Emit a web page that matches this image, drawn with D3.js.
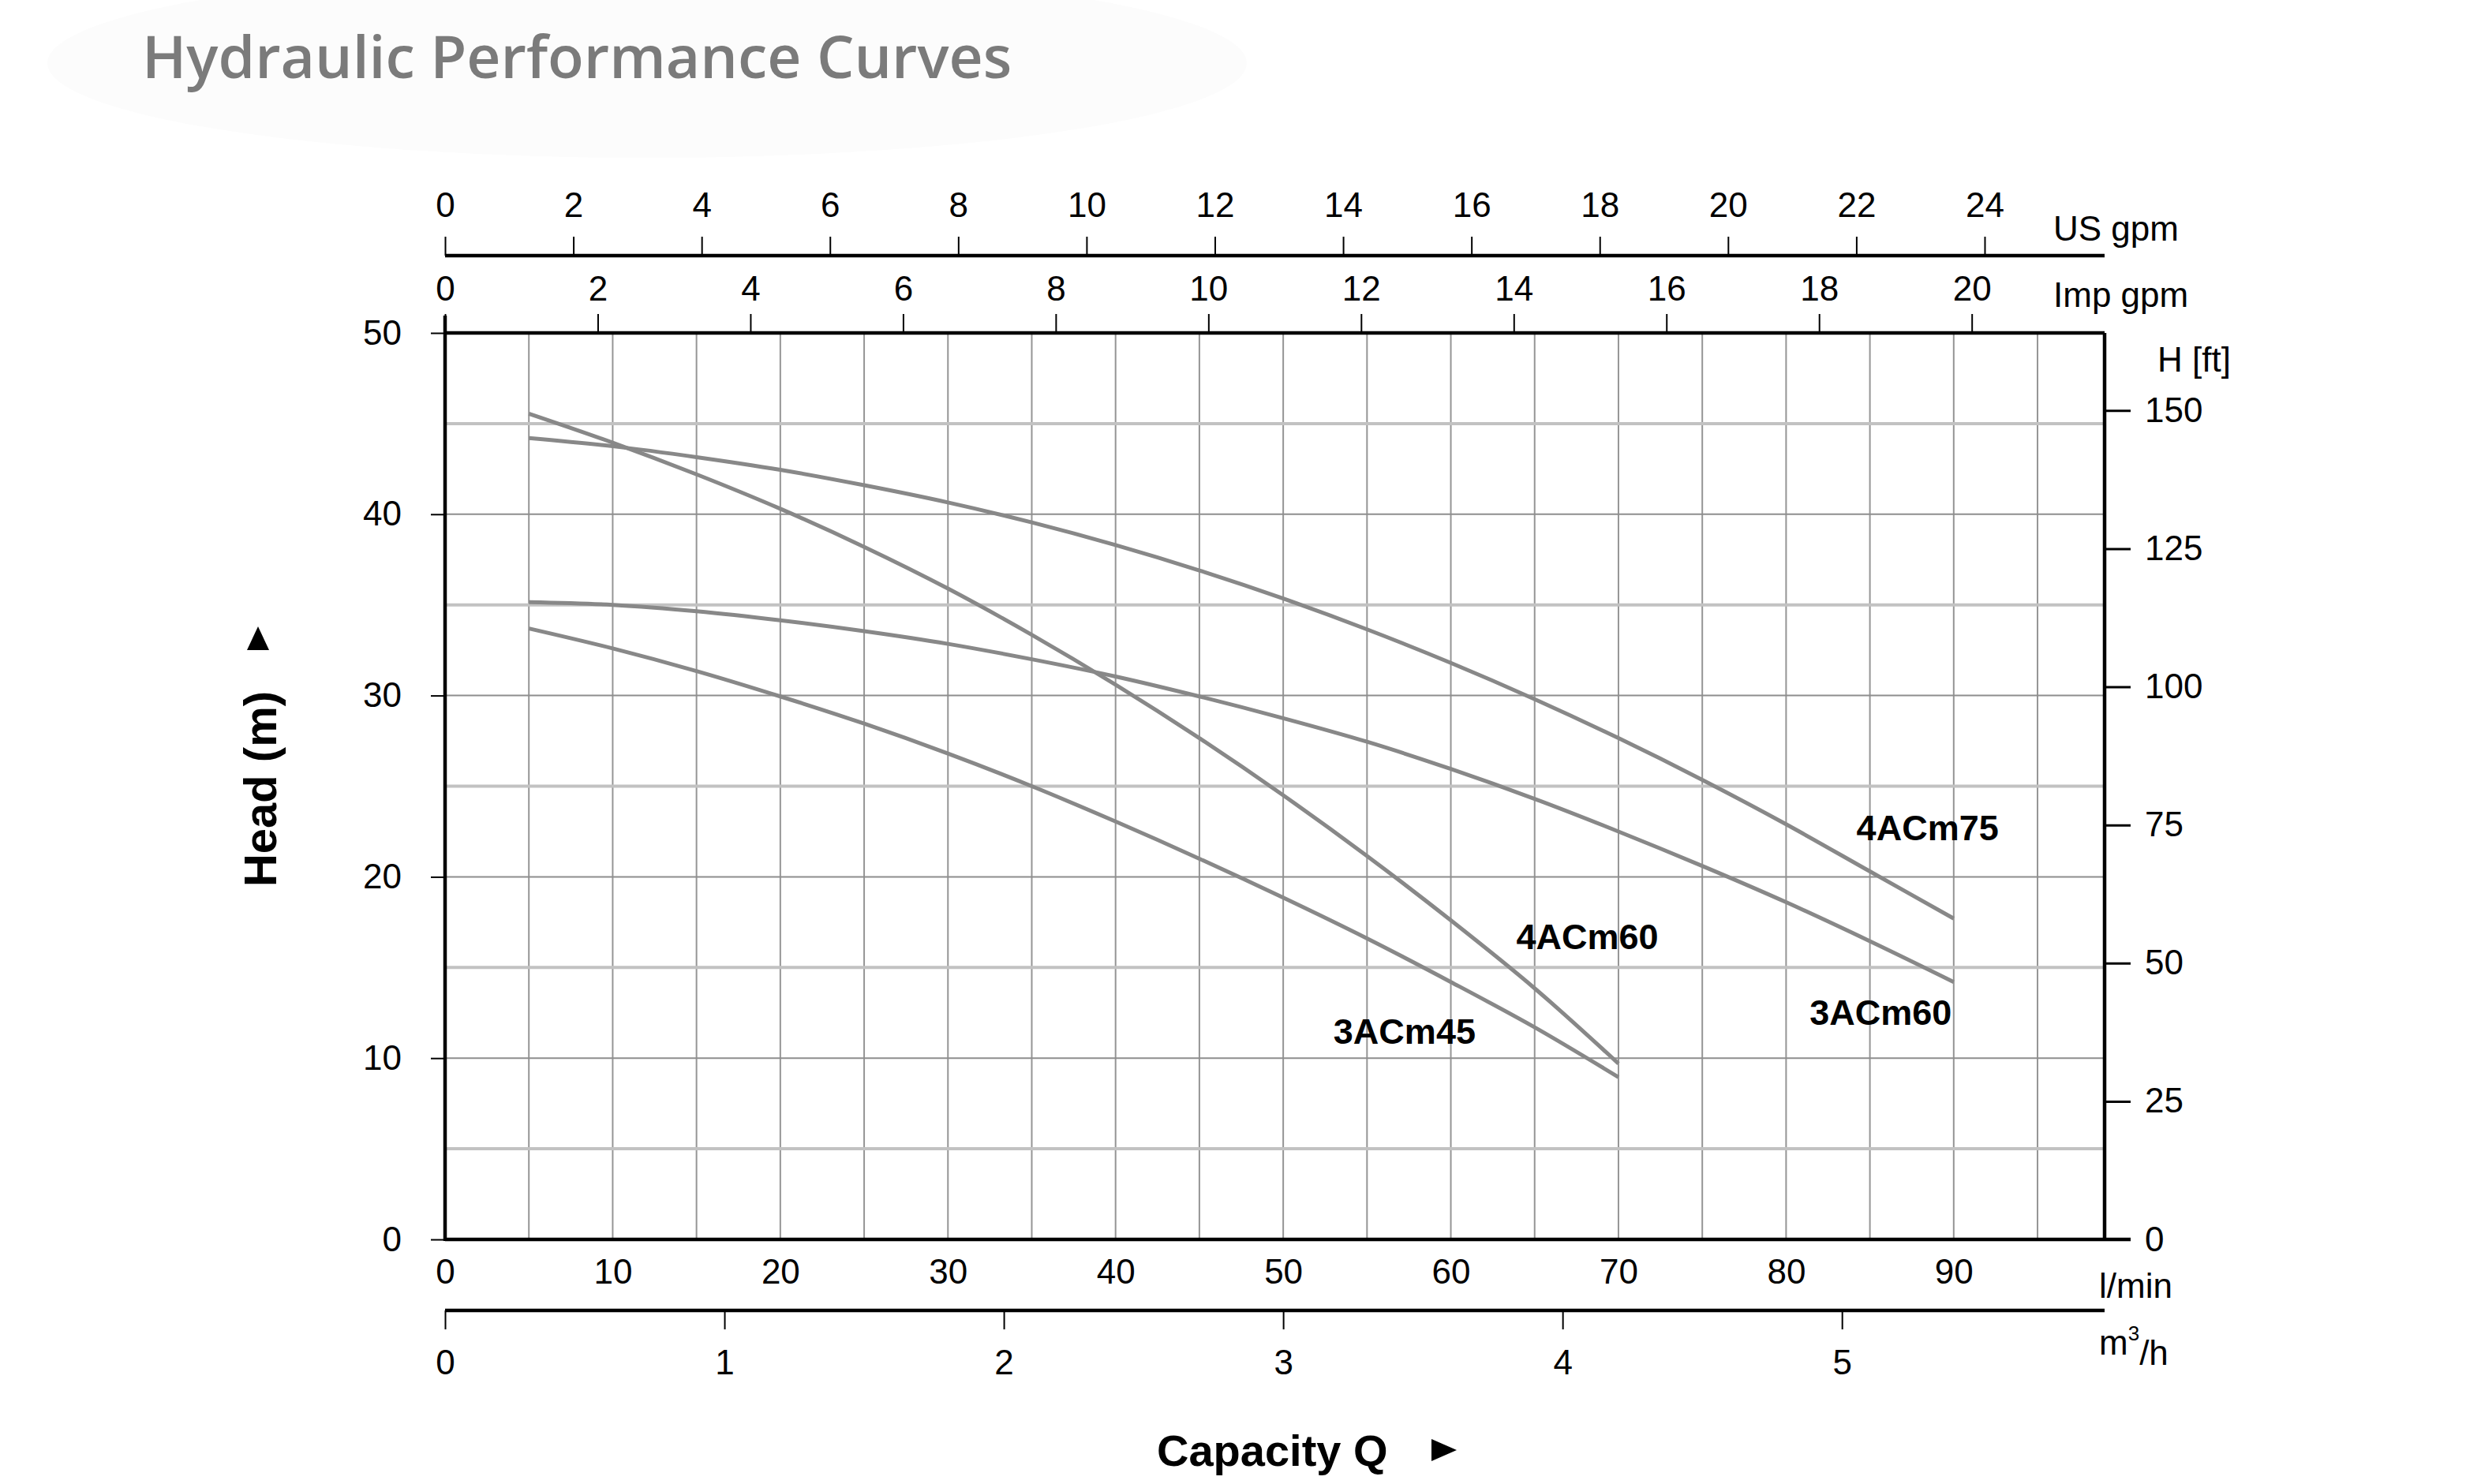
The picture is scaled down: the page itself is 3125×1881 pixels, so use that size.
<!DOCTYPE html>
<html>
<head>
<meta charset="utf-8">
<script src="https://cdn.jsdelivr.net/npm/d3@7"></script>
<style>
  body { margin: 0; background: #fff; }
  svg { display: block; }
  text { font-family: "Liberation Sans", Arial, Helvetica, sans-serif; fill: #000; }
</style>
</head>
<body>
<div id="chart"></div>
<script>
// flow points (l/min) for each curve
const flowLong = [5, 10, 15, 20, 25, 30, 35, 40, 45, 50, 55, 60, 65, 70, 75, 80, 85, 90];
const flowShort = [5, 10, 15, 20, 25, 30, 35, 40, 45, 50, 55, 60, 65, 70];

// head (m)
const head4ACm75 = [44.2, 43.75, 43.15, 42.45, 41.6, 40.65, 39.55, 38.3, 36.9, 35.35, 33.65, 31.8, 29.8, 27.65, 25.35, 22.9, 20.3, 17.7];
const head3ACm60 = [35.15, 35.0, 34.65, 34.15, 33.55, 32.85, 32.0, 31.05, 29.95, 28.75, 27.45, 25.95, 24.3, 22.5, 20.6, 18.6, 16.45, 14.2];
const head4ACm60 = [45.55, 43.95, 42.2, 40.3, 38.2, 35.9, 33.35, 30.6, 27.65, 24.5, 21.15, 17.6, 13.85, 9.7];
const head3ACm45 = [33.7, 32.6, 31.35, 29.95, 28.45, 26.8, 25.0, 23.05, 21.0, 18.85, 16.6, 14.2, 11.7, 8.95];

const series = [
  { name: '4ACm75', flow: flowLong, head: head4ACm75 },
  { name: '3ACm60', flow: flowLong, head: head3ACm60 },
  { name: '4ACm60', flow: flowShort, head: head4ACm60 },
  { name: '3ACm45', flow: flowShort, head: head3ACm45 }
];

// tick labels
const lpmTicks = [0, 10, 20, 30, 40, 50, 60, 70, 80, 90];
const m3hTicks = [0, 1, 2, 3, 4, 5];
const usGpmTicks = [0, 2, 4, 6, 8, 10, 12, 14, 16, 18, 20, 22, 24];
const impGpmTicks = [0, 2, 4, 6, 8, 10, 12, 14, 16, 18, 20];
const headTicks = [0, 10, 20, 30, 40, 50];
const ftTicks = [0, 25, 50, 75, 100, 125, 150];
const gridFlow = [5, 10, 15, 20, 25, 30, 35, 40, 45, 50, 55, 60, 65, 70, 75, 80, 85, 90, 95];
const gridHead = [5, 10, 15, 20, 25, 30, 35, 40, 45];

// where the curve names sit, in chart units (flow, head)
const labelAt = {
  '4ACm75': [84.2, 22.0],
  '4ACm60': [63.9, 16.0],
  '3ACm45': [53.0, 10.8],
  '3ACm60': [81.4, 11.85]
};

const width = 3125;
const height = 1881;
const plot = { left: 564, right: 2667, top: 422, bottom: 1571 };
const maxFlow = 99;

const x = d3.scaleLinear().domain([0, maxFlow]).range([plot.left, plot.right]);
const xM3h = d3.scaleLinear().domain([0, maxFlow * 0.06]).range([plot.left, plot.right]);
const xUs = d3.scaleLinear().domain([0, 25.87]).range([plot.left, plot.right]);
const xImp = d3.scaleLinear().domain([0, 21.74]).range([plot.left, plot.right]);
const y = d3.scaleLinear().domain([0, 50]).range([plot.bottom, plot.top]);
const yFt = d3.scaleLinear().domain([0, 50 * 3.28084]).range([plot.bottom, plot.top]);

const svg = d3.select('#chart')
  .append('svg')
  .attr('width', width)
  .attr('height', height);

// faint blob behind the title
svg.append('ellipse')
  .attr('cx', 820).attr('cy', 80)
  .attr('rx', 760).attr('ry', 120)
  .attr('fill', '#fcfcfc');

svg.append('text')
  .attr('x', 180)
  .attr('y', 99)
  .style('font-family', '"Open Sans", sans-serif')
  .style('font-weight', 600)
  .style('font-size', '75px')
  .style('fill', '#7b7b7b')
  .text('Hydraulic Performance Curves');

// grid
const grid = svg.append('g').classed('grid', true);
grid.selectAll('line.v')
  .data(gridFlow)
  .join('line')
  .attr('class', 'v')
  .attr('x1', (d) => x(d)).attr('x2', (d) => x(d))
  .attr('y1', plot.top).attr('y2', plot.bottom)
  .attr('stroke', '#959595')
  .attr('stroke-width', 2);

grid.selectAll('line.h')
  .data(gridHead)
  .join('line')
  .attr('class', 'h')
  .attr('x1', plot.left).attr('x2', plot.right)
  .attr('y1', (d) => y(d)).attr('y2', (d) => y(d))
  .attr('stroke', (d) => (d % 10 === 0 ? '#8e8e8e' : '#c2c2c2'))
  .attr('stroke-width', (d) => (d % 10 === 0 ? 2 : 4));

// curves
const line = d3.line()
  .x((d) => x(d[0]))
  .y((d) => y(d[1]))
  .curve(d3.curveCatmullRom.alpha(0.5));

svg.append('g')
  .selectAll('path')
  .data(series)
  .join('path')
  .attr('d', (s) => line(s.flow.map((q, i) => [q, s.head[i]])))
  .attr('fill', 'none')
  .attr('stroke', '#888')
  .attr('stroke-width', 5);

svg.append('g')
  .selectAll('text')
  .data(series)
  .join('text')
  .attr('x', (s) => x(labelAt[s.name][0]))
  .attr('y', (s) => y(labelAt[s.name][1]))
  .style('font-weight', 'bold')
  .style('font-size', '45px')
  .text((s) => s.name);

// axes: ticks and labels from d3, frame lines drawn by hand
const tickFont = '44px';
function styleAxis(g, tickWidth) {
  g.select('.domain').remove();
  g.selectAll('.tick line').attr('stroke', '#000').attr('stroke-width', tickWidth);
  g.selectAll('.tick text').style('font-size', tickFont).attr('fill', '#000');
}

svg.append('g')
  .attr('transform', `translate(${plot.left},0)`)
  .call(d3.axisLeft(y).tickValues(headTicks).tickSize(18).tickPadding(37))
  .call((g) => styleAxis(g, 2));

svg.append('g')
  .attr('transform', `translate(${plot.right},0)`)
  .call(d3.axisRight(yFt).tickValues(ftTicks).tickSize(33).tickPadding(18))
  .call((g) => styleAxis(g, 3));

svg.append('g')
  .attr('transform', `translate(0,${plot.bottom})`)
  .call(d3.axisBottom(x).tickValues(lpmTicks).tickSize(0))
  .call((g) => styleAxis(g, 0))
  .call((g) => g.selectAll('.tick text').attr('y', 41).attr('dy', '0.35em'));

const m3hY = 1661;
svg.append('g')
  .attr('transform', `translate(0,${m3hY})`)
  .call(d3.axisBottom(xM3h).tickValues(m3hTicks).tickFormat(d3.format('d')).tickSize(24))
  .call((g) => styleAxis(g, 2))
  .call((g) => g.selectAll('.tick text').attr('y', 66).attr('dy', '0.35em'));

const usY = 324;
svg.append('g')
  .attr('transform', `translate(0,${usY})`)
  .call(d3.axisTop(xUs).tickValues(usGpmTicks).tickSize(24))
  .call((g) => styleAxis(g, 2))
  .call((g) => g.selectAll('.tick text').attr('y', -64).attr('dy', '0.35em'));

svg.append('g')
  .attr('transform', `translate(0,${plot.top})`)
  .call(d3.axisTop(xImp).tickValues(impGpmTicks).tickSize(24))
  .call((g) => styleAxis(g, 2))
  .call((g) => g.selectAll('.tick text').attr('y', -56).attr('dy', '0.35em'));

// frame and scale bars
const frame = svg.append('g').attr('stroke', '#000').attr('stroke-width', 4.5);
frame.append('line').attr('x1', plot.left).attr('x2', plot.left).attr('y1', plot.top - 22).attr('y2', plot.bottom + 2);
frame.append('line').attr('x1', plot.left).attr('x2', plot.right).attr('y1', plot.top).attr('y2', plot.top);
frame.append('line').attr('x1', plot.right).attr('x2', plot.right).attr('y1', plot.top).attr('y2', plot.bottom);
frame.append('line').attr('x1', plot.left).attr('x2', plot.right + 33).attr('y1', plot.bottom).attr('y2', plot.bottom);
frame.append('line').attr('x1', plot.left).attr('x2', plot.right).attr('y1', m3hY).attr('y2', m3hY);
frame.append('line').attr('x1', plot.left).attr('x2', plot.right).attr('y1', usY).attr('y2', usY);

// unit labels
const units = svg.append('g').style('font-size', '44px');
units.append('text').attr('x', 2602).attr('y', 290).attr('dy', '0.35em').text('US gpm');
units.append('text').attr('x', 2602).attr('y', 374).attr('dy', '0.35em').text('Imp gpm');
units.append('text').attr('x', 2734).attr('y', 456).attr('dy', '0.35em').text('H [ft]');
units.append('text').attr('x', 2660).attr('y', 1630).attr('dy', '0.35em').text('l/min');
const m3 = units.append('text').attr('x', 2660).attr('y', 1702).attr('dy', '0.35em');
m3.append('tspan').text('m');
m3.append('tspan').attr('dy', '-0.7em').style('font-size', '26px').text('3');
m3.append('tspan').attr('dy', '0.7em').text('/h');

// axis titles with arrows
svg.append('text')
  .attr('transform', 'translate(330,1000) rotate(-90)')
  .attr('text-anchor', 'middle')
  .attr('dy', '0.35em')
  .style('font-weight', 'bold')
  .style('font-size', '58px')
  .text('Head (m)');

svg.append('path')
  .attr('d', 'M327,794 L341,824 L313,824 Z')
  .attr('fill', '#000');

svg.append('text')
  .attr('x', 1466)
  .attr('y', 1838)
  .attr('dy', '0.35em')
  .style('font-weight', 'bold')
  .style('font-size', '56px')
  .text('Capacity Q');

svg.append('path')
  .attr('d', 'M1814,1824 L1846,1838 L1814,1852 Z')
  .attr('fill', '#000');
</script>
</body>
</html>
